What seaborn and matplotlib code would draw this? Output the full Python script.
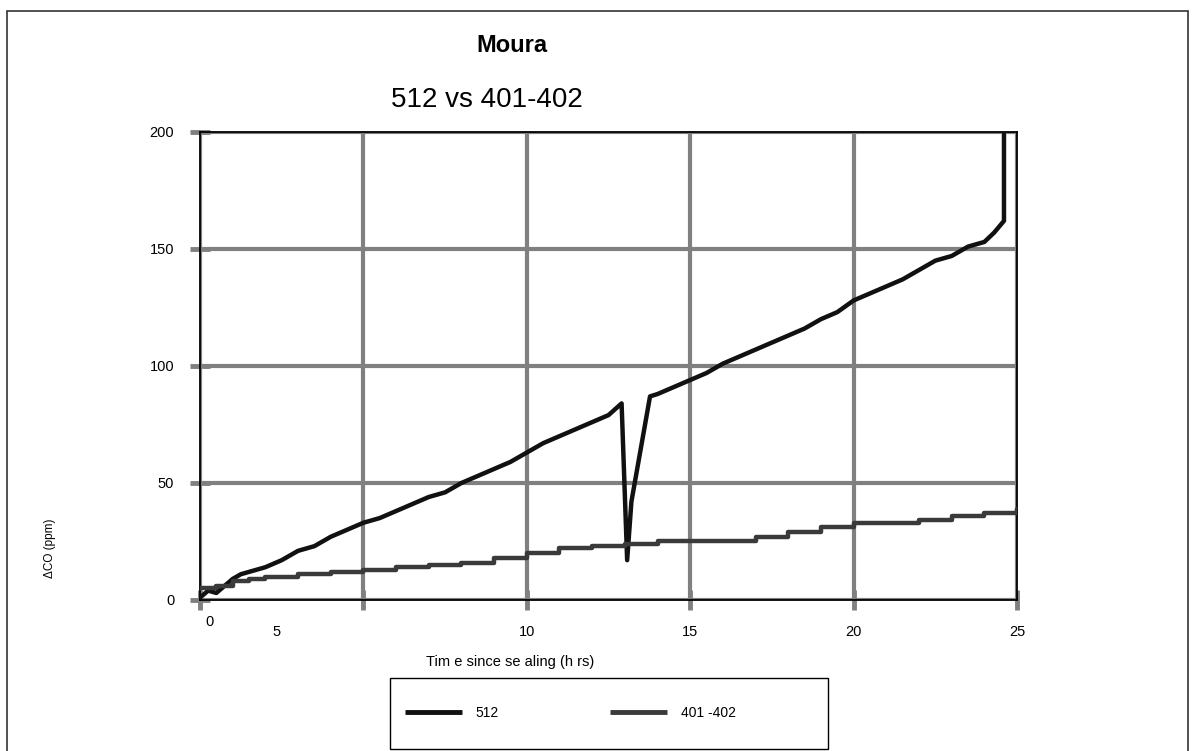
import matplotlib
matplotlib.use("Agg")
import seaborn as sns
import pandas as pd
import matplotlib.pyplot as plt
from matplotlib.patches import Rectangle

# данные
hrs_512 = [0, 0.25, 0.5, 0.75, 1.0, 1.25, 1.5, 2.0, 2.5, 3.0, 3.5, 4.0, 4.5, 5.0, 5.5, 6.0,
           6.5, 7.0, 7.5, 8.0, 8.5, 9.0, 9.5, 10.0, 10.5, 11.0, 11.5, 12.0, 12.5, 12.9,
           13.07, 13.2, 13.77, 14.0, 14.5, 15.0, 15.5, 16.0, 16.5, 17.0, 17.5, 18.0, 18.5,
           19.0, 19.5, 20.0, 20.5, 21.0, 21.5, 22.0, 22.5, 23.0, 23.5, 24.0, 24.3, 24.6, 24.6]
co_512 = [1, 4, 3, 6, 9, 11, 12, 14, 17, 21, 23, 27, 30, 33, 35, 38,
          41, 44, 46, 50, 53, 56, 59, 63, 67, 70, 73, 76, 79, 84,
          17, 42, 87, 88, 91, 94, 97, 101, 104, 107, 110, 113, 116,
          120, 123, 128, 131, 134, 137, 141, 145, 147, 151, 153, 157, 162, 199]

hrs_401 = [0, 0.5, 1.0, 1.5, 2.0, 3.0, 4.0, 5.0, 6.0, 7.0, 8.0, 9.0, 10.0, 11.0, 12.0,
           13.0, 14.0, 15.0, 16.0, 17.0, 18.0, 19.0, 20.0, 21.0, 22.0, 23.0, 24.0, 25.0]
co_401 = [5, 6, 8, 9, 10, 11, 12, 13, 14, 15, 16, 18, 20, 22, 23,
          24, 25, 25, 25, 27, 29, 31, 33, 33, 34, 36, 37, 39]

x_ticks = [0, 5, 10, 15, 20, 25]
x_tick_labels = ["0", "5", "10", "15", "20", "25"]
y_ticks = [0, 50, 100, 150, 200]

df_512 = pd.DataFrame({"hrs": hrs_512, "co": co_512})
df_401 = pd.DataFrame({"hrs": hrs_401, "co": co_401})

sns.set_theme(style="white")
plt.rcParams['font.family'] = ['Liberation Sans', 'DejaVu Sans']
plt.rcParams['text.color'] = 'black'

fig = plt.figure(figsize=(11.94, 7.51), dpi=100)
ax = fig.add_axes([0.1675, 0.2011, 0.6843, 0.6232])

sns.lineplot(data=df_512, x="hrs", y="co", ax=ax, color="#111111", lw=3.2,
             sort=False, estimator=None, label="512", zorder=3)
sns.lineplot(data=df_401, x="hrs", y="co", ax=ax, color="#3a3a3a", lw=3.2,
             sort=False, estimator=None, drawstyle="steps-post", label="401 -402", zorder=3)

ax.set_xlim(0, 25)
ax.set_ylim(0, 200)
ax.set_xticks(x_ticks)
ax.set_xticklabels([""] * len(x_ticks))
ax.set_yticks(y_ticks)
ax.set_xlabel("")
ax.set_ylabel("")
ax.grid(True, color="#808080", lw=3)
ax.set_axisbelow(True)
ax.tick_params(bottom=True, left=True, direction="inout", length=15, width=3.5,
               color="#808080", labelsize=10.5, pad=11, labelcolor="black")
for s in ax.spines.values():
    s.set_visible(True)
    s.set_color("black")
    s.set_linewidth(1.3)

# подписи оси X (в оригинале "0" и "5" смещены)
x_label_pos = [0.3, 2.35, 10, 15, 20, 25]
x_label_y = [-0.047, -0.068, -0.068, -0.068, -0.068, -0.068]
for xp, yp, lab in zip(x_label_pos, x_label_y, x_tick_labels):
    ax.text(xp, yp, lab, transform=ax.get_xaxis_transform(), ha="center", va="center",
            fontsize=10.5)

fig.text(510 / 1194, 1 - 662 / 751, "Tim e since se aling (h rs)", ha="center", va="center",
         fontsize=10.5)
fig.text(50 / 1194, 1 - 548 / 751, "ΔCO (ppm)", ha="center", va="center", rotation=90,
         fontsize=8.5)
fig.text(512 / 1194, 1 - 46 / 751, "Moura", ha="center", va="center", fontsize=17,
         fontweight="bold")
fig.text(487 / 1194, 1 - 100 / 751, "512 vs 401-402", ha="center", va="center", fontsize=20)

# легенда
handles, labels = ax.get_legend_handles_labels()
ax.get_legend().remove()
leg = fig.legend(handles, labels, ncol=2, loc="center left",
                 bbox_to_anchor=(405 / 1194, 1 - 713 / 751),
                 frameon=False, fontsize=10, borderpad=0, borderaxespad=0,
                 handlelength=4.1, handletextpad=1.0, columnspacing=8.0)
for ln in leg.get_lines():
    ln.set_solid_capstyle("butt")
    ln.set_linewidth(3.5)
fig.patches.append(Rectangle((390 / 1194, 1 - 749 / 751), 438 / 1194, 71 / 751,
                             transform=fig.transFigure, fill=False, ec="black", lw=1.0))

fig.patches.append(Rectangle((7 / 1194, -0.01), (1188 - 7) / 1194, 1.01 - 11 / 751,
                             transform=fig.transFigure, fill=False, ec="#333333", lw=1.2))

plt.savefig("out.png", dpi=100)
